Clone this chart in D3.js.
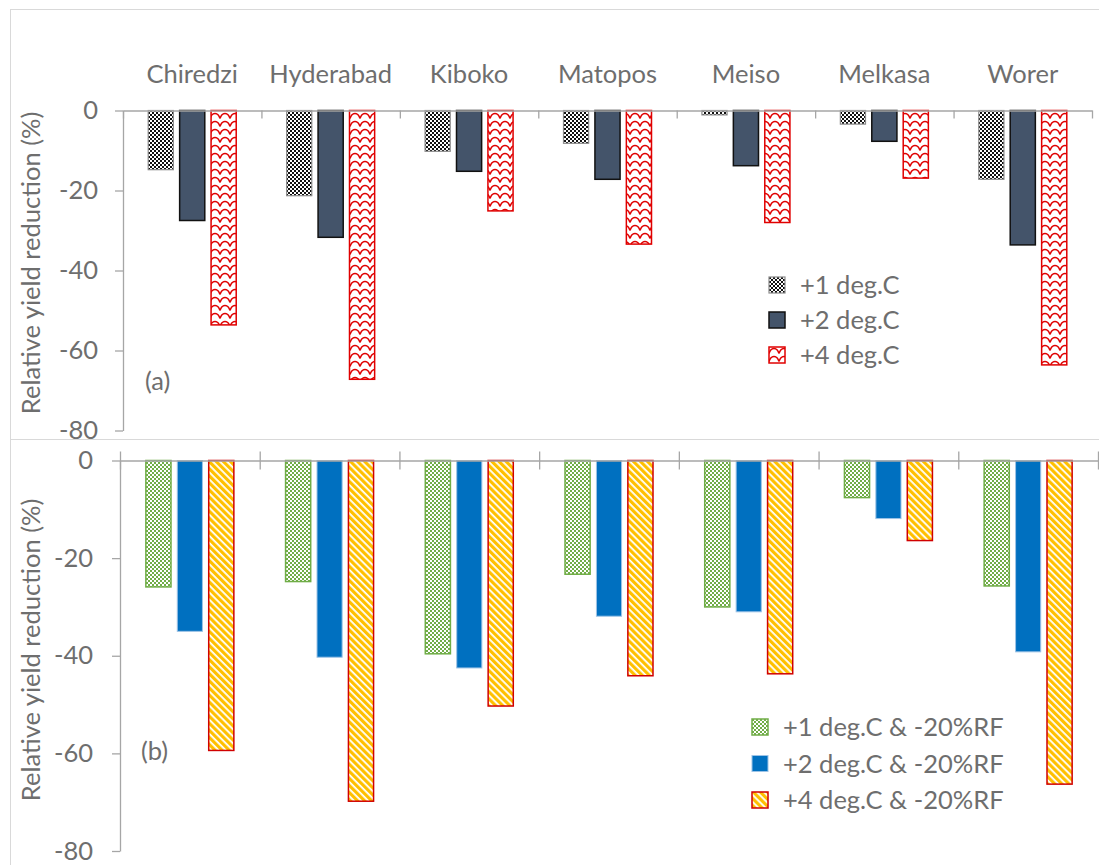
<!DOCTYPE html>
<html>
<head>
<meta charset="utf-8">
<script src="https://cdn.jsdelivr.net/npm/d3@7"></script>
<style>
  body { margin: 0; background: #fff; }
  svg text { font-family: Lato, "Open Sans", sans-serif; fill: #6e6e6e; }
</style>
</head>
<body>
<svg id="chart" width="1099" height="865"></svg>
<script>
/********** data **********/
var sites = ["Chiredzi", "Hyderabad", "Kiboko", "Matopos", "Meiso", "Melkasa", "Worer"];

var seriesA = ["+1 deg.C", "+2 deg.C", "+4 deg.C"];
var plus1 = [-14.8, -21.3, -10.2, -8.2, -1.1, -3.4, -17.2];
var plus2 = [-27.5, -31.7, -15.2, -17.2, -13.8, -7.7, -33.6];
var plus4 = [-53.6, -67.2, -25.1, -33.4, -28.0, -16.9, -63.6];

var seriesB = ["+1 deg.C & -20%RF", "+2 deg.C & -20%RF", "+4 deg.C & -20%RF"];
var plus1rf = [-25.9, -24.8, -39.6, -23.3, -30.0, -7.6, -25.7];
var plus2rf = [-35.0, -40.3, -42.5, -31.9, -31.0, -11.9, -39.2];
var plus4rf = [-59.4, -69.8, -50.3, -44.1, -43.7, -16.4, -66.3];

var yTicks = [0, -20, -40, -60, -80];

var svg = d3.select("#chart");
var defs = svg.append("defs");

/********** patterns **********/
function checker(id, color) {
    var p = defs.append("pattern").attr("id", id).attr("patternUnits", "userSpaceOnUse")
        .attr("width", 4).attr("height", 4);
    p.append("rect").attr("width", 4).attr("height", 4).attr("fill", "#fff");
    p.append("rect").attr("width", 2).attr("height", 2).attr("fill", color);
    p.append("rect").attr("x", 2).attr("y", 2).attr("width", 2).attr("height", 2).attr("fill", color);
}
checker("chkBlack", "#111");
checker("chkGreen", "#70ad47");

// red wave, humps of about 10px
var wave = defs.append("pattern").attr("id", "waveRed").attr("patternUnits", "userSpaceOnUse")
    .attr("width", 10).attr("height", 8);
wave.append("rect").attr("width", 10).attr("height", 8).attr("fill", "#fff");
wave.append("path").attr("d", "M0,6.5 C1.5,2 3.5,1.5 5,1.5 C6.5,1.5 8.5,2 10,6.5").attr("fill", "none")
    .attr("stroke", "#e00000").attr("stroke-width", 1.5);

var stripe = defs.append("pattern").attr("id", "stripeOrange").attr("patternUnits", "userSpaceOnUse")
    .attr("width", 5).attr("height", 5).attr("patternTransform", "rotate(-45)");
stripe.append("rect").attr("width", 5).attr("height", 5).attr("fill", "#fff");
stripe.append("rect").attr("width", 3.2).attr("height", 5).attr("fill", "#ffc000");

var styleA = [
    { fill: "url(#chkBlack)", stroke: "#8c8c8c", sw: 1.2 },
    { fill: "#44546a", stroke: "#111", sw: 1.5 },
    { fill: "url(#waveRed)", stroke: "#e00000", sw: 1.5 }
];
var styleB = [
    { fill: "url(#chkGreen)", stroke: "#70ad47", sw: 1.5 },
    { fill: "#0070c0", stroke: "#9dc3e6", sw: 1 },
    { fill: "url(#stripeOrange)", stroke: "#d00000", sw: 1.5 }
];

/********** panel frames **********/
svg.append("rect").attr("x", 10.5).attr("y", 9.5).attr("width", 1100).attr("height", 432)
    .attr("fill", "#fff").attr("stroke", "#d9d9d9");
svg.append("rect").attr("x", 10.5).attr("y", 439.5).attr("width", 1100).attr("height", 460)
    .attr("fill", "#fff").attr("stroke", "#d9d9d9");

function drawPanel(cfg) {
    var g = svg.append("g");
    var x = d3.scaleBand().domain(sites).range([cfg.x0, cfg.x1]);
    var xEdge = d3.scaleLinear().domain([0, sites.length]).range([cfg.x0, cfg.x1]);
    var y = d3.scaleLinear().domain([-80, 0]).range([cfg.yBottom, cfg.yZero]);
    var x1 = d3.scaleBand().domain([0, 1, 2]).range([0, 88]).paddingInner(0.2);
    var off = (x.bandwidth() - 88) / 2;

    // y axis
    var ya = g.append("g").attr("transform", "translate(" + cfg.x0 + ",0)")
        .call(d3.axisLeft(y).tickValues(yTicks).tickFormat(function (d) { return String(d); })
            .tickSize(8).tickSizeOuter(0).tickPadding(cfg.labelPad));
    ya.selectAll("path, line").attr("stroke", "#a6a6a6").attr("stroke-width", 1.3);
    ya.selectAll("text").style("font-size", "25.5px").attr("fill", "#6e6e6e")
        .style("font-family", "Lato, 'Open Sans', sans-serif");

    // bars
    cfg.values.forEach(function (vals, si) {
        var st = cfg.styles[si];
        g.append("g").selectAll("rect").data(vals).join("rect")
            .attr("x", function (d, i) { return x(sites[i]) + off + x1(si); })
            .attr("y", y(0))
            .attr("width", x1.bandwidth())
            .attr("height", function (d) { return y(d) - y(0); })
            .attr("fill", st.fill).attr("stroke", st.stroke).attr("stroke-width", st.sw);
    });

    // category axis (zero line)
    var xa = g.append("g").attr("transform", "translate(0," + y(0) + ")")
        .call(d3.axisBottom(xEdge).ticks(sites.length).tickFormat("").tickSize(8).tickSizeOuter(0));
    xa.selectAll("path, line").attr("stroke", "#a6a6a6").attr("stroke-width", 1.3);
    if (cfg.crossTicks) xa.selectAll(".tick line").attr("y1", -9).attr("y2", 9);

    if (cfg.showCats) {
        var ca = g.append("g").attr("transform", "translate(0," + y(0) + ")")
            .call(d3.axisTop(x).tickSize(0).tickPadding(28));
        ca.select(".domain").remove();
        ca.selectAll("text").style("font-size", "25.5px").attr("fill", "#6e6e6e")
            .style("font-family", "Lato, 'Open Sans', sans-serif");
    }

    // axis title
    g.append("text").attr("transform", "translate(" + cfg.titleX + "," + cfg.titleY + ") rotate(-90)")
        .attr("text-anchor", "middle").style("font-size", "25.5px").text("Relative yield reduction (%)");

    // panel tag
    g.append("text").attr("x", cfg.tagX).attr("y", cfg.tagY).style("font-size", "25.5px").text(cfg.tag);

    // legend
    var lg = g.append("g").attr("transform", "translate(" + cfg.legX + "," + cfg.legY + ")");
    cfg.names.forEach(function (name, si) {
        var st = cfg.styles[si];
        var row = lg.append("g").attr("transform", "translate(0," + (si * cfg.legStep) + ")");
        row.append("rect").attr("x", 0).attr("y", -8).attr("width", 16).attr("height", 16)
            .attr("fill", st.fill).attr("stroke", st.stroke).attr("stroke-width", st.sw);
        row.append("text").attr("x", 31).attr("y", 9).style("font-size", "25.5px").text(name);
    });
}

drawPanel({
    x0: 123, x1: 1092, yZero: 110.5, yBottom: 430.5, labelPad: 17, crossTicks: false, showCats: true,
    values: [plus1, plus2, plus4], styles: styleA, names: seriesA,
    titleX: 40, titleY: 263, tag: "(a)", tagX: 145, tagY: 390,
    legX: 769, legY: 285, legStep: 35
});

drawPanel({
    x0: 120, x1: 1098, yZero: 460.5, yBottom: 851, labelPad: 19, crossTicks: true, showCats: false,
    values: [plus1rf, plus2rf, plus4rf], styles: styleB, names: seriesB,
    titleX: 40, titleY: 650, tag: "(b)", tagX: 141, tagY: 760,
    legX: 752, legY: 727, legStep: 36.5
});
</script>
</body>
</html>
